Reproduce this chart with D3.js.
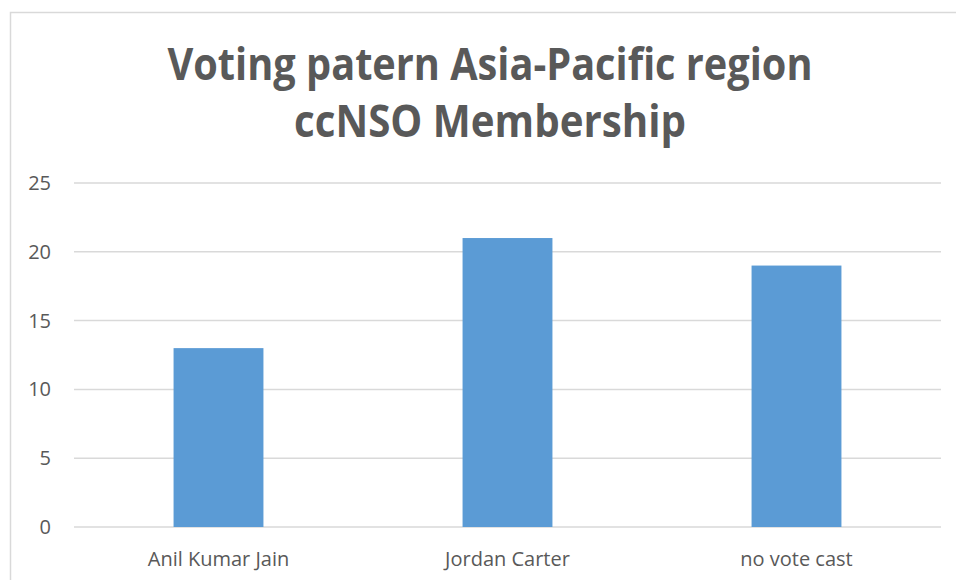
<!DOCTYPE html>
<html><head><meta charset="utf-8">
<script src="https://cdn.jsdelivr.net/npm/d3@7"></script>
<style>html,body{margin:0;padding:0;background:#fff;}</style>
</head><body>
<script>
const categories = ["Anil Kumar Jain", "Jordan Carter", "no vote cast"];
const values = [13, 21, 19];
const yTicks = [0, 5, 10, 15, 20, 25];
const titleLines = ["Voting patern Asia-Pacific region", "ccNSO Membership"];

const W = 956, H = 580;
const svg = d3.select("body").append("svg").attr("width", W).attr("height", H);
svg.append("rect").attr("x", 10.5).attr("y", 12.5).attr("width", W).attr("height", H)
  .attr("fill", "#fff").attr("stroke", "#d9d9d9").attr("stroke-width", 1.5);

const x = d3.scaleBand().domain(categories).range([74, 941]).padding(0);
const y = d3.scaleLinear().domain([0, 25]).range([527, 183]);
const font = "'Open Sans', 'Noto Sans', sans-serif";

svg.append("g").selectAll("line").data(yTicks).join("line")
  .attr("x1", 74).attr("x2", 941).attr("y1", d => y(d)).attr("y2", d => y(d))
  .attr("stroke", "#d9d9d9").attr("stroke-width", 1.5);

const yAxis = d3.axisLeft(y).tickValues(yTicks).tickSize(0).tickPadding(0);
const gy = svg.append("g").attr("transform", "translate(51,0)").call(yAxis);
gy.select(".domain").remove();
gy.selectAll("text").attr("font-family", font).attr("font-size", 20).attr("fill", "#595959");

const bw = x.bandwidth() * 0.311;
svg.append("g").selectAll("rect").data(values).join("rect")
  .attr("x", (d, i) => x(categories[i]) + x.bandwidth() / 2 - bw / 2)
  .attr("width", bw)
  .attr("y", d => y(d)).attr("height", d => y(0) - y(d))
  .attr("fill", "#5b9bd5");

const xAxis = d3.axisBottom(x).tickSize(0).tickPadding(0);
const gx = svg.append("g").attr("transform", "translate(0,552)").call(xAxis);
gx.select(".domain").remove();
gx.selectAll("text").attr("font-family", font).attr("font-size", 20).attr("fill", "#595959");

const tw = [645, 392];
svg.append("g").selectAll("text").data(titleLines).join("text")
  .attr("x", 490).attr("y", (d, i) => 80 + i * 57)
  .attr("text-anchor", "middle")
  .attr("font-family", font).attr("font-weight", "bold").attr("font-size", 44)
  .attr("fill", "#595959")
  .attr("textLength", (d, i) => tw[i]).attr("lengthAdjust", "spacingAndGlyphs")
  .text(d => d);
</script>
</body></html>
